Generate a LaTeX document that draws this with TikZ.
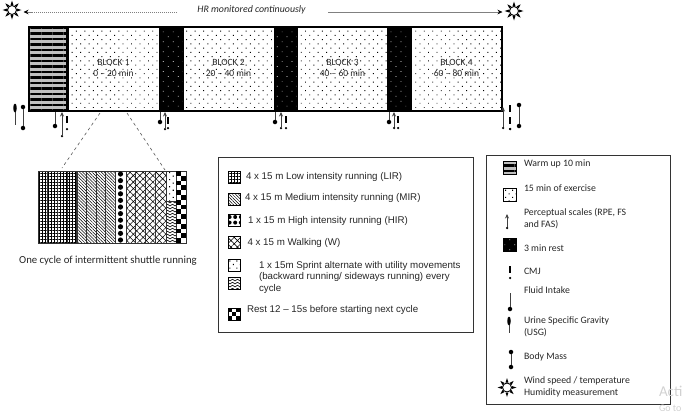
\documentclass[tikz,border=0pt]{standalone}
\usepackage{fontspec}
\setmainfont{Carlito}
\newfontfamily\arialfont{Liberation Sans}
\usetikzlibrary{patterns,patterns.meta,arrows.meta,calc,shapes.geometric}

\pgfdeclarepatternformonly{zigzag}{\pgfqpoint{-1pt}{-1pt}}{\pgfqpoint{6pt}{4pt}}{\pgfqpoint{5pt}{3pt}}{
  \pgfsetlinewidth{.6pt}
  \pgfpathmoveto{\pgfqpoint{0pt}{0pt}}
  \pgfpathlineto{\pgfqpoint{2.5pt}{1.8pt}}
  \pgfpathlineto{\pgfqpoint{5pt}{0pt}}
  \pgfusepath{stroke}}

\begin{document}
\begin{tikzpicture}[x=1pt,y=-1pt]
  \tikzstyle{every node}=[inner sep=0pt,outer sep=0pt]
  \tikzstyle{strip}=[draw=black,line width=1pt,anchor=north west,minimum height=84pt,align=center,font=\fontsize{9.5}{12}\selectfont,text=black!85]
  \tikzstyle{warmfill}=[preaction={fill=black!25},pattern={Lines[angle=0,distance=5.5pt,line width=2.8pt]}]
  \tikzstyle{exfill}=[pattern={Dots[angle=45,distance=6pt,radius=.65pt]}]
  \tikzstyle{restfill}=[preaction={fill=black},pattern={Dots[angle=45,distance=7pt,radius=.5pt]},pattern color=white]
  \tikzstyle{lirfill}=[pattern={Hatch[angle=0,distance=3pt,line width=.6pt]}]
  \tikzstyle{mirfill}=[pattern={Lines[angle=-45,distance=2.2pt,line width=.5pt]}]
  \tikzstyle{hirfill}=[pattern={Dots[angle=0,distance=5.6pt,radius=2pt]}]
  \tikzstyle{wfill}=[pattern={Hatch[angle=45,distance=4.6pt,line width=.6pt]}]
  \tikzstyle{sprfill}=[pattern={Dots[angle=45,distance=5pt,radius=.75pt]}]
  \tikzstyle{swatch}=[draw=black,line width=.6pt,minimum size=12pt,anchor=north west]
  \tikzstyle{cell}=[draw=black!80,line width=.7pt,anchor=north west]
  \tikzstyle{key}=[anchor=west,align=left,font=\arialfont\fontsize{9.75}{11.5}\selectfont,text=black!85]
  \tikzstyle{tag}=[anchor=west,align=left,font=\fontsize{9.8}{12}\selectfont,text=black!85]
  \tikzstyle{frame}=[draw=black!80,line width=.9pt,anchor=north west]
  \tikzstyle{probe}=[line width=.9pt,black!75]
  \tikzstyle{blob}=[fill=black,circle,minimum size=4.5pt]
  \tikzstyle{tinydot}=[fill=black,circle,minimum size=2.5pt]
  \tikzstyle{zoomline}=[black!65,dashed,line width=.6pt]
  \tikzstyle{hrline}=[black!50,dash pattern=on 1.5pt off .5pt,line width=.6pt,shorten >=7pt,-{Stealth[black,length=5pt,width=4.5pt]}]
  \tikzstyle{sun}=[circle,draw=black,fill=white,line width=.9pt,minimum size=9pt]

  \useasboundingbox (0,0) rectangle (685,413);

  % main time line
  \node[strip,warmfill,minimum width=38pt] (warm) at (29,27) {};
  \foreach \x/\n/\t in {68/1/0 -- 20,183/2/20 -- 40,297/3/40 -- 60,411/4/60 -- 80}
    \node[strip,exfill,minimum width=91pt] (block-\n) at (\x,27) {\raisebox{5pt}{\begin{tabular}{@{}c@{}}BLOCK \n\\[-1pt]\t\ min\end{tabular}}};
  \foreach \x/\n in {160/1,274/2,387/3}
    \node[strip,restfill,minimum width=23.5pt] (rest-\n) at (\x,27) {};
  \draw[black,line width=2pt] (warm.north east) -- (warm.south east);
  \draw[black,line width=2.5pt] (warm.north west) rectangle (block-4.south east);

  % suns and the HR line
  \node[sun] (sun-left) at (12,10) {};
  \node[sun] (sun-right) at (514,11) {};
  \node[sun] (sun-key) at (507,387.5) {};
  \foreach \s in {sun-left,sun-right,sun-key}
    \foreach \a in {0,45,...,315}
      \fill[black] ($(\s)+(\a-16:5.2)$) -- ($(\s)+(\a:9.5)$) -- ($(\s)+(\a+16:5.2)$) -- cycle;
  \node[font=\itshape\fontsize{9.9}{11}\selectfont,text=black!85] (hr) at (251.5,10) {HR monitored continuously};
  \coordinate (hr-left) at (177,12);
  \coordinate (hr-right) at (328,12);
  \draw[hrline] (hr-left) -- (sun-left.east |- hr-left);
  \draw[hrline] (hr-right) -- (sun-right.west |- hr-right);

  % fluid intake
  \foreach \x/\ya/\yb in {55/112/129,160/112/125,275/112/125,389/112/125,510/293/312}{
    \coordinate (fi-\x) at (\x,\ya);
    \node[blob] (fi-end-\x) at (\x,\yb-3) {};
    \draw[probe] (fi-\x) -- (fi-end-\x);
  }
  % perceptual scales
  \foreach \x/\ya/\yb in {62/112/136,165/112/129,281/112/128,394/112/128,503/107/128,507/214/228}{
    \coordinate (ps-\x) at (\x,\ya);
    \node[tinydot] (ps-end-\x) at (\x,\yb) {};
    \draw[probe,{Stealth[length=4.5pt,width=4pt]}-] (ps-\x) -- (ps-end-\x);
  }
  % CMJ
  \foreach \x/\ya/\yb in {67/116/129,168/117/128,286/116/128,398/116/128,510/105/129,510/117/129,510/266/278}{
    \coordinate (cmj-\x-\ya) at (\x,\ya);
    \coordinate (cmj-stop-\x-\ya) at (\x,\ya+7);
    \node[tinydot] (cmj-end-\x-\ya) at (\x,\yb) {};
    \draw[line width=1.5pt,black] (cmj-\x-\ya) -- (cmj-stop-\x-\ya);
  }
  % urine
  \foreach \x/\ya/\yb in {15/104/125,509/317/333}{
    \coordinate (usg-\x) at (\x,\ya);
    \coordinate (usg-end-\x) at (\x,\yb);
    \draw[probe] (usg-\x) -- (usg-end-\x);
    \node[fill=black,ellipse,minimum width=3.5pt,minimum height=9pt] (usg-blob-\x) at (\x,\ya+4) {};
  }
  % body mass
  \foreach \x/\ya/\yb in {23/107/128,519/105/126,511/352/367}{
    \node[blob] (bm-\x) at (\x,\ya) {};
    \node[blob] (bm-end-\x) at (\x,\yb) {};
    \draw[probe] (bm-\x) -- (bm-end-\x);
  }

  % one cycle
  \foreach \n/\x in {1/38,2/47.7,3/57.5,4/67}
    \node[cell,lirfill,minimum width=9.7pt,minimum height=72pt] (lir-\n) at (\x,171) {};
  \foreach \n/\x in {1/77,2/86.5,3/96,4/105.5}
    \node[cell,mirfill,minimum width=9.5pt,minimum height=72pt] (mir-\n) at (\x,171) {};
  \node[cell,line width=1pt,minimum width=11pt,minimum height=72pt] (hir) at (115,171) {};
  \foreach \n in {0,...,10}
    \fill[black] (120.5,174+6.6*\n) circle (2.6);
  \foreach \n/\x/\w in {1/126/9.5,2/135.5/9.5,3/145/10,4/155/11}
    \node[cell,wfill,minimum width=\w pt,minimum height=72pt] (walk-\n) at (\x,171) {};
  \node[cell,sprfill,minimum width=10pt,minimum height=30pt] (sprint) at (166,171) {};
  \node[cell,pattern=zigzag,minimum width=10pt,minimum height=42pt] (side) at (166,201) {};
  \node[cell,minimum width=10pt,minimum height=72pt] (pause) at (176,171) {};
  \foreach \r in {0,...,14}
    \foreach \c in {0,1}{
      \pgfmathparse{int(mod(\r+\c,2))}
      \ifnum\pgfmathresult=0 \fill[black] (176+5*\c,171+4.8*\r) rectangle ++(5,4.8); \fi
    }
  \coordinate (zoom-a) at (100,113);
  \coordinate (zoom-b) at (127,113);
  \coordinate (zoom-c) at (62,168);
  \coordinate (zoom-d) at (165,170);
  \draw[zoomline] (zoom-a) -- (zoom-c);
  \draw[zoomline] (zoom-b) -- (zoom-d);
  \node[font=\fontsize{10.75}{12}\selectfont,text=black!85] (cycle) at (108,261) {One cycle of intermittent shuttle running};

  % first key
  \node[frame,minimum width=254.5pt,minimum height=175pt] (key-a) at (218.5,157) {};
  \foreach \y/\f/\n in {171/lirfill/a,193/mirfill/b,214/hirfill/c,236/wfill/d,259/sprfill/e}
    \node[swatch,\f] (sw-\n) at (228,\y) {};
  \node[swatch,pattern=zigzag] (sw-f) at (228,277) {};
  \node[swatch] (sw-g) at (228,308) {};
  \foreach \r in {0,1,2}
    \foreach \c in {0,1,2}{
      \pgfmathparse{int(mod(\r+\c,2))}
      \ifnum\pgfmathresult=0 \fill[black] (228+4*\c,308+4*\r) rectangle ++(4,4); \fi
    }
  \node[key] (t-lir) at (246,177) {4 x 15 m Low intensity running (LIR)};
  \node[key] (t-mir) at (245,198) {4 x 15 m Medium intensity running (MIR)};
  \node[key] (t-hir) at (248,221) {1 x 15 m High intensity running (HIR)};
  \node[key] (t-w) at (247.5,243) {4 x 15 m Walking (W)};
  \node[key] (t-spr) at (259,277) {1 x 15m Sprint alternate with utility movements\\(backward running/ sideways running) every\\cycle};
  \node[key] (t-rest) at (247,310) {Rest 12 – 15s before starting next cycle};

  % second key
  \node[frame,minimum width=184pt,minimum height=249pt] (key-b) at (486,155) {};
  \node[swatch,warmfill,minimum size=13pt] (sw-warm) at (503,161) {};
  \node[swatch,sprfill,minimum size=13pt] (sw-ex) at (503,188) {};
  \node[swatch,restfill,minimum size=13pt] (sw-rest) at (503,238) {};
  \node[tag] (l-warm) at (524,164) {Warm up 10 min};
  \node[tag] (l-ex) at (524,188) {15 min of exercise};
  \node[tag] (l-ps) at (524,219) {Perceptual scales (RPE, FS\\and FAS)};
  \node[tag] (l-rest) at (524,248) {3 min rest};
  \node[tag] (l-cmj) at (524,271) {CMJ};
  \node[tag] (l-fi) at (524,290) {Fluid Intake};
  \node[tag] (l-usg) at (524,327) {Urine Specific Gravity\\(USG)};
  \node[tag] (l-bm) at (524,357) {Body Mass};
  \node[tag] (l-sun) at (524,387) {Wind speed / temperature\\Humidity measurement};

  % watermark
  \node[anchor=west,font=\fontsize{15}{15}\selectfont,text=black!18] (wm-a) at (659,391) {Acti};
  \node[anchor=west,font=\fontsize{10}{10}\selectfont,text=black!18] (wm-b) at (659,408) {Go to};
\end{tikzpicture}
\end{document}
